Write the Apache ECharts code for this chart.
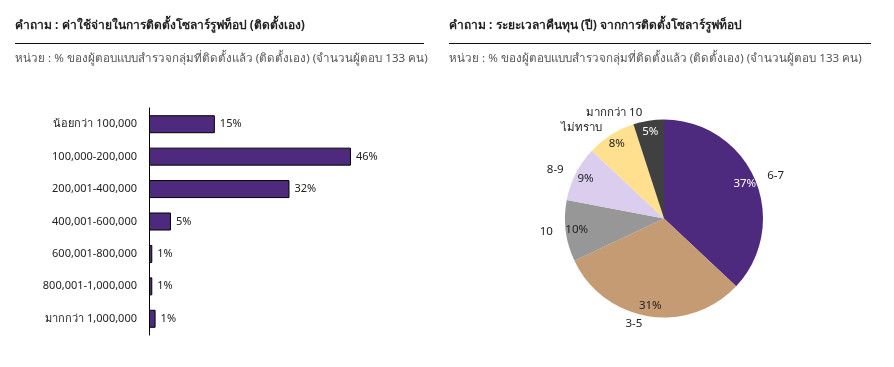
<!DOCTYPE html>
<html><head><meta charset="utf-8">
<script src="https://cdn.jsdelivr.net/npm/echarts@6/dist/echarts.min.js"></script>
<style>html,body{margin:0;padding:0;background:#fff}#c{width:894px;height:367px}</style>
</head><body><div id="c"></div>
<script>
const leftTitle = 'คำถาม : ค่าใช้จ่ายในการติดตั้งโซลาร์รูฟท็อป (ติดตั้งเอง)';
const rightTitle = 'คำถาม : ระยะเวลาคืนทุน (ปี) จากการติดตั้งโซลาร์รูฟท็อป';
const unitText = 'หน่วย : % ของผู้ตอบแบบสำรวจกลุ่มที่ติดตั้งแล้ว (ติดตั้งเอง) (จำนวนผู้ตอบ 133 คน)';

const costCategories = ['น้อยกว่า 100,000','100,000-200,000','200,001-400,000','400,001-600,000','600,001-800,000','800,001-1,000,000','มากกว่า 1,000,000'];
const costValues = [15, 46, 32, 5, 0.75, 0.75, 1.5];
const costLabels = ['15%','46%','32%','5%','1%','1%','1%'];

const paybackNames = ['6-7','3-5','10','8-9','ไม่ทราบ','มากกว่า 10'];
const paybackValues = [37, 31, 10, 9, 8, 5];
const paybackColors = ['#4E2A7E','#C49B72','#979797','#DACDEE','#FFE08E','#404040'];
const paybackLabelColors = ['#ffffff','#222222','#222222','#222222','#222222','#ffffff'];

const font = '"Noto Sans", sans-serif';
const chart = echarts.init(document.getElementById('c'));
const pieData = paybackNames.map((n,i)=>({name:n,value:paybackValues[i],itemStyle:{color:paybackColors[i]}}));
chart.setOption({
  animation:false,
  textStyle:{fontFamily:font},
  title:[
    {text:leftTitle,left:10,top:15,textStyle:{fontSize:12,fontWeight:'bold',color:'#222',fontFamily:font}},
    {text:unitText,left:10,top:48,textStyle:{fontSize:11.6,fontWeight:'normal',color:'#555',fontFamily:font}},
    {text:rightTitle,left:444,top:15,textStyle:{fontSize:12,fontWeight:'bold',color:'#222',fontFamily:font}},
    {text:unitText,left:444,top:48,textStyle:{fontSize:11.6,fontWeight:'normal',color:'#555',fontFamily:font}}
  ],
  graphic:[
    {type:'line',shape:{x1:15,y1:43.5,x2:424,y2:43.5},style:{stroke:'#111',lineWidth:1}},
    {type:'line',shape:{x1:449,y1:43.5,x2:871,y2:43.5},style:{stroke:'#111',lineWidth:1}}
  ],
  grid:{left:149,top:108,width:219.5,height:227,containLabel:false},
  xAxis:{type:'value',min:0,max:50,show:false},
  yAxis:{type:'category',data:costCategories,inverse:true,
    axisLine:{show:true,lineStyle:{color:'#000',width:1}},axisTick:{show:false},
    axisLabel:{color:'#222',fontSize:11,margin:12,fontFamily:font}},
  series:[
    {type:'bar',data:costValues,barWidth:18,
     itemStyle:{color:'#4E2A7E',borderColor:'#000',borderWidth:1},
     label:{show:true,position:'right',distance:5,color:'#222',fontSize:11,fontFamily:font,
       formatter:p=>costLabels[p.dataIndex]}},
    {type:'pie',center:[664,218.5],radius:99,startAngle:90,clockwise:true,silent:true,
     data:pieData,itemStyle:{borderColor:'#fff',borderWidth:0},
     label:{show:true,position:'outside',color:'#222',fontSize:11.5,fontFamily:font,formatter:'{b}'},
     labelLine:{show:false,length:8,length2:0}},
    {type:'pie',center:[664,218.5],radius:[71,99],startAngle:90,clockwise:true,silent:true,
     data:paybackNames.map((n,i)=>({name:n,value:paybackValues[i],itemStyle:{color:'rgba(0,0,0,0)'},
       label:{color:paybackLabelColors[i]}})),
     label:{show:true,position:'inside',fontSize:11.5,fontFamily:font,formatter:'{c}%'},
     labelLine:{show:false}}
  ]
});
</script></body></html>
